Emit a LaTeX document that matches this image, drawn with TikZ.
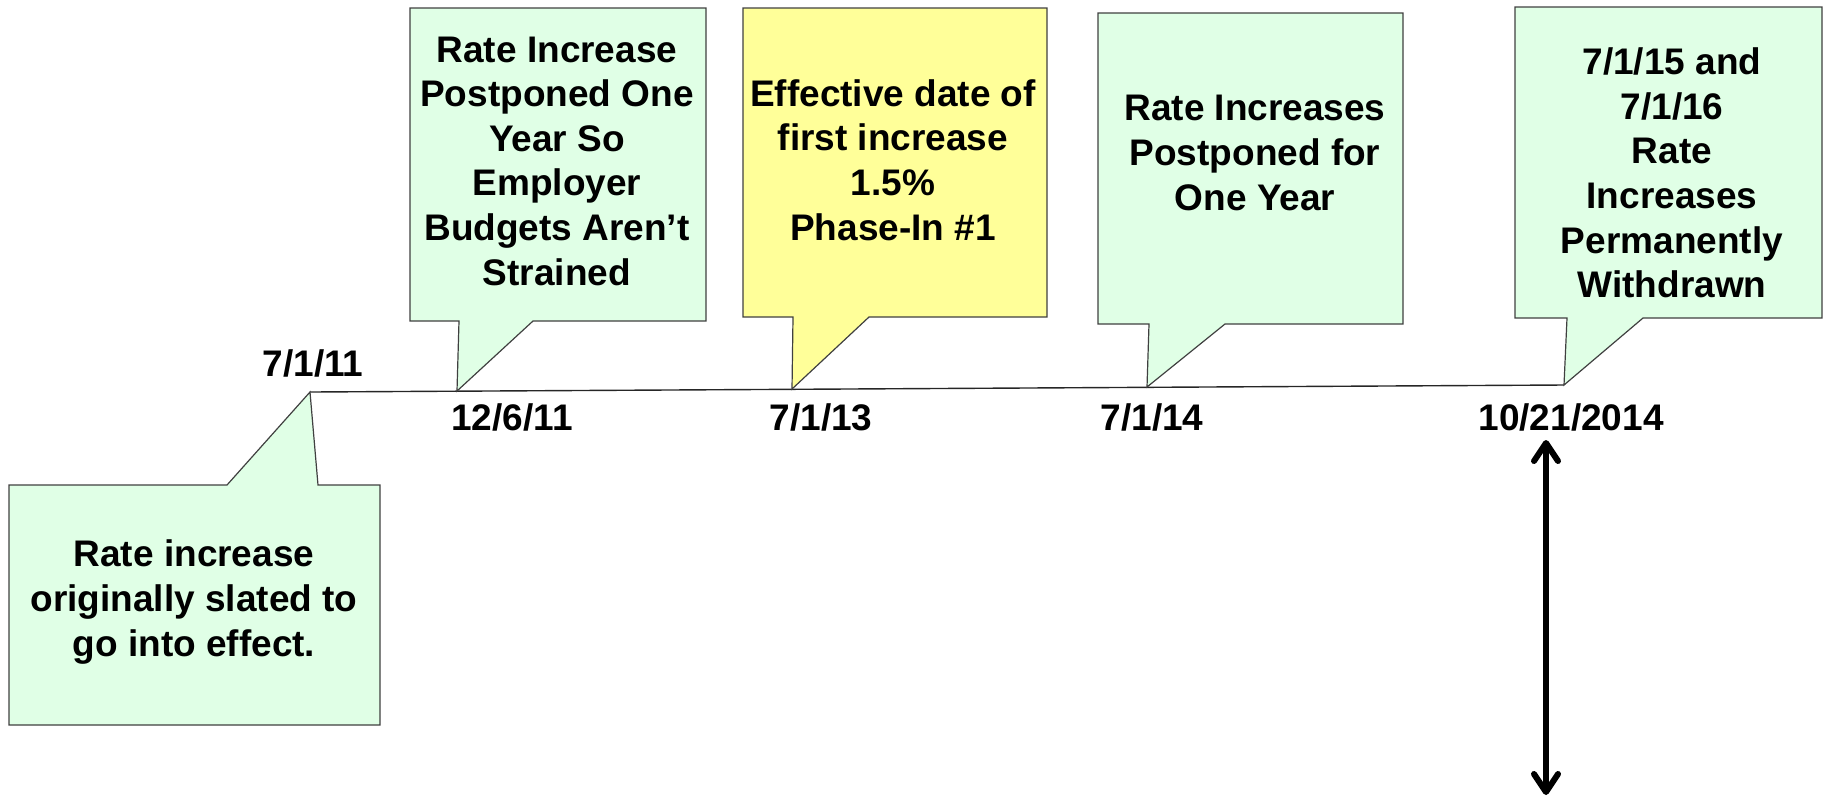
\documentclass[tikz,border=0pt]{standalone}
\usepackage{fontspec}
\setmainfont{Liberation Sans}
\usetikzlibrary{arrows.meta}
\definecolor{callgreen}{RGB}{224,255,230}
\definecolor{callyellow}{RGB}{255,255,153}
\begin{document}
\begin{tikzpicture}[x=0.5pt,y=-0.5pt,
  callout/.style={draw=black!75, line width=0.6pt, line join=miter},
  txt/.style={font=\bfseries\fontsize{18.5}{22.3}\selectfont, align=center, inner sep=0pt},
  datelbl/.style={font=\bfseries\fontsize{18.5}{22.3}\selectfont, inner sep=0pt},
  timeline/.style={draw=black!85, line width=0.7pt},
  bigarrow/.style={line width=3pt, line cap=round, line join=round,
    {Straight Barb[length=9pt,width=12pt,line cap=round,line join=round]}-{Straight Barb[length=9pt,width=12pt,line cap=round,line join=round]}}]
\useasboundingbox (0,0) rectangle (1825,799);

% timeline tips
\coordinate (p1) at (310,392);
\coordinate (p2) at (457,391);
\coordinate (p3) at (792,389);
\coordinate (p4) at (1147,387);
\coordinate (p5) at (1564,385);

\draw[timeline] (p1) -- (p5);

% callouts
\path[callout, fill=callgreen] (9,485) -- (227,485) -- (p1) -- (318,485) -- (380,485) -- (380,725) -- (9,725) -- cycle;
\path[callout, fill=callgreen] (410,8) -- (706,8) -- (706,321) -- (533,321) -- (p2) -- (459,321) -- (410,321) -- cycle;
\path[callout, fill=callyellow] (743,8) -- (1047,8) -- (1047,317) -- (869,317) -- (p3) -- (793,317) -- (743,317) -- cycle;
\path[callout, fill=callgreen] (1098,13) -- (1403,13) -- (1403,324) -- (1225,324) -- (p4) -- (1149,324) -- (1098,324) -- cycle;
\path[callout, fill=callgreen] (1515,7) -- (1822,7) -- (1822,318) -- (1643,318) -- (p5) -- (1567,318) -- (1515,318) -- cycle;

% callout texts
\node[txt] (c1) at (194,602) {Rate increase\\originally slated to\\go into effect.};
\node[txt] (c2) at (557,161) {Rate Increase\\Postponed One\\Year So\\Employer\\Budgets Aren’t\\Strained};
\node[txt] (c3) at (893,160) {Effective date of\\first increase\\1.5\%\\Phase-In \#1};
\node[txt] (c4) at (1255,153) {Rate Increases\\Postponed for\\One Year};
\node[txt] (c5) at (1672,173) {7/1/15 and\\7/1/16\\Rate\\Increases\\Permanently\\Withdrawn};

% date labels
\node[datelbl] (d1) at (313,363) {7/1/11};
\node[datelbl] (d2) at (512,417) {12/6/11};
\node[datelbl] (d3) at (821,417) {7/1/13};
\node[datelbl] (d4) at (1152,417) {7/1/14};
\node[datelbl] (d5) at (1571,417) {10/21/2014};

% double arrow
\coordinate (a1) at (1546,440);
\coordinate (a2) at (1546,795);
\draw[bigarrow] (a1) -- (a2);
\end{tikzpicture}
\end{document}
